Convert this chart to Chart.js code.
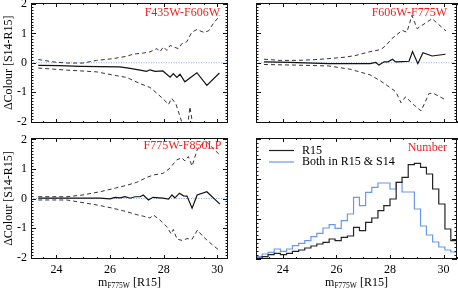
<!DOCTYPE html>
<html><head><meta charset="utf-8">
<script src="https://cdn.jsdelivr.net/npm/chart.js@4.4.1/dist/chart.umd.min.js"></script>
<style>
html,body{margin:0;padding:0;background:#fff;width:458px;height:291px;overflow:hidden}
#wrap{position:relative;width:458px;height:291px}
canvas{position:absolute;left:0;top:0}
</style></head><body>
<div id="wrap">
<canvas id="cTL" width="458" height="291"></canvas>
<canvas id="cTR" width="458" height="291"></canvas>
<canvas id="cBL" width="458" height="291"></canvas>
<canvas id="cBR" width="458" height="291"></canvas>
</div>
<script>
// ---------------- data ----------------
const xTicks = [24, 26, 28, 30];
const yTicks = [-2, -1, 0, 1, 2];
const leftRange = [23.05, 30.4];
const rightRange = [23, 30.5];
const zeroY = [0, 0];

// Top-left: F435W-F606W
const tlMeanX = [23.32, 24.13, 24.88, 25.63, 26.37, 26.75, 27.12, 27.36, 27.49, 27.68, 27.97, 28.24, 28.36, 28.49, 28.61, 28.79, 29.24, 29.61, 30.08];
const tlMeanY = [-0.09, -0.10, -0.12, -0.13, -0.14, -0.19, -0.25, -0.29, -0.24, -0.29, -0.28, -0.49, -0.37, -0.50, -0.39, -0.65, -0.34, -0.77, -0.35];
const tlUpX = [23.32, 23.87, 24.38, 24.99, 25.50, 26.11, 26.62, 26.85, 27.24, 27.49, 27.60, 27.75, 27.86, 27.99, 28.12, 28.24, 28.36, 28.55, 28.68, 28.86, 29.05, 29.24, 29.48, 29.67, 29.85, 30.10];
const tlUpY = [0.11, 0.03, -0.01, -0.01, 0.08, 0.14, 0.22, 0.29, 0.33, 0.37, 0.42, 0.48, 0.37, 0.54, 0.42, 0.59, 0.54, 0.48, 0.65, 0.71, 1.04, 1.13, 1.04, 1.08, 1.33, 1.61];
const tlLoX = [23.32, 24.38, 25.50, 26.12, 26.62, 27.12, 27.49, 27.75, 27.99, 28.18, 28.30, 28.46, 28.68, 28.83, 28.98, 29.13, 29.35, 29.73, 30.07];
const tlLoY = [-0.18, -0.25, -0.31, -0.42, -0.50, -0.71, -0.84, -1.04, -1.24, -1.42, -1.21, -1.41, -2.03, -2.60, -1.50, -2.40, -2.90, -3.10, -3.30];

// Top-right: F606W-F775W
const trMeanX = [23.30, 24.27, 25.72, 26.72, 27.25, 27.47, 27.59, 27.78, 27.93, 28.09, 28.21, 28.45, 28.71, 28.84, 29.04, 29.23, 29.57, 30.07];
const trMeanY = [0.03, 0.01, -0.03, -0.03, -0.03, 0.01, -0.08, 0.03, 0.03, 0.12, 0.03, 0.04, 0.05, 0.38, -0.03, 0.34, 0.23, 0.29];
const trUpX = [23.30, 23.90, 24.49, 25.09, 25.72, 26.32, 26.73, 27.22, 27.66, 27.85, 28.07, 28.45, 28.63, 28.82, 29.01, 29.57, 30.09];
const trUpY = [0.12, 0.08, 0.08, 0.10, 0.14, 0.19, 0.25, 0.37, 0.45, 0.59, 0.82, 1.10, 1.04, 1.61, 1.16, 1.50, 1.08];
const trLoX = [23.30, 24.49, 25.72, 26.51, 27.25, 27.63, 28.00, 28.22, 28.41, 28.58, 28.90, 29.16, 29.46, 29.64, 30.09];
const trLoY = [-0.06, -0.08, -0.11, -0.22, -0.41, -0.61, -0.84, -0.99, -1.36, -1.16, -1.44, -1.64, -1.04, -1.05, -1.27];

// Bottom-left: F775W-F850LP
const blMeanX = [23.32, 24.13, 24.88, 25.63, 26.00, 26.19, 26.37, 26.56, 26.75, 26.93, 27.12, 27.24, 27.43, 27.60, 27.97, 28.18, 28.31, 28.42, 28.59, 28.74, 28.87, 29.06, 29.25, 29.61, 30.10];
const blMeanY = [0.01, 0.01, 0.01, 0.01, -0.01, 0.04, 0.02, 0.06, 0.01, 0.06, 0.06, 0.12, -0.05, 0.04, 0.01, -0.02, 0.12, 0.02, 0.18, 0.09, 0.08, -0.33, 0.12, 0.23, -0.19];
const blUpX = [23.32, 24.39, 24.99, 25.63, 26.19, 26.63, 27.00, 27.38, 27.64, 27.97, 28.20, 28.49, 28.68, 28.79, 28.92, 29.06, 29.26, 29.56, 30.10];
const blUpY = [0.06, 0.06, 0.12, 0.23, 0.35, 0.45, 0.55, 0.72, 0.80, 0.85, 1.00, 1.31, 1.38, 1.27, 1.42, 1.10, 1.68, 1.95, 1.47];
const blLoX = [23.32, 24.39, 24.99, 25.63, 26.11, 26.63, 27.00, 27.24, 27.49, 27.62, 27.86, 28.12, 28.28, 28.36, 28.50, 28.69, 28.87, 29.06, 29.26, 29.43, 29.66, 30.10];
const blLoY = [-0.05, -0.05, -0.14, -0.24, -0.33, -0.45, -0.55, -0.60, -0.66, -0.56, -0.73, -0.96, -1.20, -1.05, -1.38, -1.42, -1.36, -1.38, -1.07, -1.25, -1.45, -1.78];

// Bottom-right: Number histograms
const brBinEdges = [23.00, 23.23, 23.45, 23.68, 23.91, 24.14, 24.36, 24.59, 24.82, 25.05, 25.27, 25.50, 25.73, 25.95, 26.18, 26.41, 26.64, 26.86, 27.09, 27.32, 27.55, 27.77, 28.00, 28.23, 28.45, 28.68, 28.91, 29.14, 29.36, 29.59, 29.82, 30.05, 30.27, 30.50];
const brR15 = [1, 2.3, 4.3, 5.7, 4.3, 5.7, 7.7, 9, 11, 13, 15, 16.7, 20, 18.3, 21.7, 23, 31.7, 28.3, 36.7, 41, 48.3, 53.3, 60, 76.7, 81.7, 94.3, 95.7, 91.7, 85, 70, 55, 30, 18.3];
const brBoth = [2.3, 5, 6.7, 10, 7.7, 10, 13.3, 15.7, 18.3, 22.3, 25.7, 31, 34.3, 30.7, 38.3, 45, 61.7, 53.3, 66.7, 71.7, 76, 76, 70, 76.7, 67, 67, 50, 33, 24, 17, 12, 9, 7];

// text
const panelLabels = ['F435W-F606W', 'F606W-F775W', 'F775W-F850LP', 'Number'];
const seriesNames = ['R15', 'Both in R15 & S14'];
const yTitle = '\u0394Colour [S14-R15]';
const xTitleMain = 'm', xTitleSub = 'F775W', xTitleTail = ' [R15]';

// ---------------- styling ----------------
const SERIF = "'Liberation Serif','Times New Roman',Times,serif";
const RED = '#f21c1c';
const BLUE = '#6a98e8';
const ZERO = '#93aee8';
const W = 458, H = 291;

const pts = (xs, ys) => xs.map((x, i) => ({x, y: ys[i]}));
const histPts = (edges, counts) => edges.map((x, i) => ({x, y: counts[Math.min(i, counts.length - 1)]}));

const decoPlugin = {
  id: 'deco',
  afterDraw(chart, args, o) {
    const ctx = chart.ctx, a = chart.chartArea, xs = chart.scales.x, ys = chart.scales.y;
    const L = Math.round(a.left), R = Math.round(a.right), T = Math.round(a.top), B = Math.round(a.bottom);
    ctx.save();
    ctx.strokeStyle = '#111';
    ctx.lineWidth = 1;
    ctx.strokeRect(L + 0.5, T + 0.5, R - L - 1, B - T - 1);
    ctx.beginPath();
    for (let i = Math.ceil(xs.min / o.xMinor - 1e-9); i * o.xMinor <= xs.max + 1e-9; i++) {
      const v = i * o.xMinor;
      const maj = Math.abs(v / o.xMajor - Math.round(v / o.xMajor)) < 1e-6;
      const len = maj ? 4 : 2;
      const px = Math.round(xs.getPixelForValue(v)) + 0.5;
      ctx.moveTo(px, T); ctx.lineTo(px, T + len);
      ctx.moveTo(px, B); ctx.lineTo(px, B - len);
    }
    for (let i = Math.ceil(ys.min / o.yMinor - 1e-9); i * o.yMinor <= ys.max + 1e-9; i++) {
      const v = i * o.yMinor;
      const maj = Math.abs(v / o.yMajor - Math.round(v / o.yMajor)) < 1e-6;
      const len = maj ? 5 : 2.5;
      const py = Math.round(ys.getPixelForValue(v)) + 0.5;
      ctx.moveTo(L, py); ctx.lineTo(L + len, py);
      ctx.moveTo(R, py); ctx.lineTo(R - len, py);
    }
    ctx.stroke();
    ctx.fillStyle = RED;
    ctx.font = `12px ${SERIF}`;
    ctx.textAlign = 'right';
    ctx.textBaseline = 'alphabetic';
    ctx.fillText(o.label, a.right - o.labelDx, a.top + o.labelDy);
    if (o.xTitle) {
      ctx.fillStyle = '#000';
      ctx.textAlign = 'left';
      ctx.font = `12px ${SERIF}`; const w1 = ctx.measureText(xTitleMain).width;
      ctx.font = `7.5px ${SERIF}`; const w2 = ctx.measureText(xTitleSub).width;
      ctx.font = `12px ${SERIF}`; const w3 = ctx.measureText(xTitleTail).width;
      let x = (a.left + a.right) / 2 - (w1 + w2 + w3) / 2;
      const by = o.xTitleY;
      ctx.fillText(xTitleMain, x, by); x += w1;
      ctx.font = `7.5px ${SERIF}`; ctx.fillText(xTitleSub, x, by + 2.5); x += w2;
      ctx.font = `12px ${SERIF}`; ctx.fillText(xTitleTail, x, by);
    }
    if (o.legend) {
      ctx.font = `12px ${SERIF}`;
      ctx.textAlign = 'left';
      o.legend.forEach((item) => {
        const ds = chart.data.datasets[item.ds];
        ctx.strokeStyle = ds.borderColor;
        ctx.lineWidth = 1.2;
        ctx.beginPath();
        ctx.moveTo(item.x0, item.y + 0.5); ctx.lineTo(item.x1, item.y + 0.5);
        ctx.stroke();
        ctx.fillStyle = '#000';
        ctx.fillText(ds.label, item.tx, item.y + 3.8);
      });
    }
    ctx.restore();
  }
};

function makeChart(id, area, xRange, datasets, opts) {
  const [L, T, R, B] = area;
  const tickFont = {family: SERIF, size: 12};
  return new Chart(document.getElementById(id), {
    type: 'line',
    data: {datasets},
    options: {
      responsive: false,
      animation: false,
      devicePixelRatio: 1,
      layout: {padding: {left: 0, top: T, right: W - R, bottom: 0}},
      elements: {point: {radius: 0}, line: {tension: 0}},
      plugins: {legend: {display: false}, tooltip: {enabled: false}, deco: opts.deco},
      scales: {
        x: {
          type: 'linear', min: xRange[0], max: xRange[1],
          grid: {display: false, drawTicks: false}, border: {display: false},
          ticks: {display: opts.xLabels, font: tickFont, color: '#000', padding: 4, maxRotation: 0},
          afterBuildTicks: (s) => { s.ticks = xTicks.map((v) => ({value: v})); },
          afterFit: (s) => { s.height = H - B; s.paddingLeft = 0; s.paddingRight = 0; }
        },
        y: {
          type: 'linear', min: opts.yMin, max: opts.yMax,
          grid: {display: false, drawTicks: false}, border: {display: false},
          ticks: {display: opts.yLabels, font: tickFont, color: '#000', padding: 4},
          title: {display: !!opts.yTitle, text: opts.yTitle || '', font: {family: SERIF, size: 12}, color: '#000', padding: {top: 2, bottom: 0}},
          afterBuildTicks: (s) => { if (opts.yLabels) s.ticks = yTicks.map((v) => ({value: v})); },
          afterFit: (s) => { s.width = L; s.paddingTop = 0; s.paddingBottom = 0; }
        }
      }
    },
    plugins: [decoPlugin]
  });
}

function colourSets(xRange, meanX, meanY, upX, upY, loX, loY) {
  return [
    {label: 'mean', data: pts(meanX, meanY), borderColor: '#111', borderWidth: 1.2, pointRadius: 0, fill: false},
    {label: 'upper', data: pts(upX, upY), borderColor: '#333', borderWidth: 1, borderDash: [4, 3], pointRadius: 0, fill: false},
    {label: 'lower', data: pts(loX, loY), borderColor: '#333', borderWidth: 1, borderDash: [4, 3], pointRadius: 0, fill: false},
    {label: 'zero', data: pts(xRange, zeroY), borderColor: ZERO, borderWidth: 1, borderDash: [1, 1.5], pointRadius: 0, fill: false}
  ];
}

const dYmin = -2.05, dYmax = 2.05;

makeChart('cTL', [31, 2.5, 228, 123], leftRange, colourSets(leftRange, tlMeanX, tlMeanY, tlUpX, tlUpY, tlLoX, tlLoY), {
  xLabels: false, yLabels: true, yTitle: yTitle, yMin: dYmin, yMax: dYmax,
  deco: {xMinor: 0.5, xMajor: 2, yMinor: 0.1, yMajor: 1, label: panelLabels[0], labelDx: 8, labelDy: 13}
});
makeChart('cTR', [256, 2.5, 457, 123], rightRange, colourSets(rightRange, trMeanX, trMeanY, trUpX, trUpY, trLoX, trLoY), {
  xLabels: false, yLabels: false, yMin: dYmin, yMax: dYmax,
  deco: {xMinor: 0.5, xMajor: 2, yMinor: 0.1, yMajor: 1, label: panelLabels[1], labelDx: 10, labelDy: 13}
});
makeChart('cBL', [31, 138, 228, 259], leftRange, colourSets(leftRange, blMeanX, blMeanY, blUpX, blUpY, blLoX, blLoY), {
  xLabels: true, yLabels: true, yTitle: yTitle, yMin: dYmin, yMax: dYmax,
  deco: {xMinor: 0.5, xMajor: 2, yMinor: 0.1, yMajor: 1, label: panelLabels[2], labelDx: 6.5, labelDy: 11, xTitle: true, xTitleY: 285.5}
});
makeChart('cBR', [256, 138, 457, 259], rightRange, [
  {label: seriesNames[0], data: histPts(brBinEdges, brR15), borderColor: '#222', borderWidth: 1.2, stepped: true, pointRadius: 0, fill: false},
  {label: seriesNames[1], data: histPts(brBinEdges, brBoth), borderColor: BLUE, borderWidth: 1.2, stepped: true, pointRadius: 0, fill: false}
], {
  xLabels: true, yLabels: false, yMin: 0, yMax: 121,
  deco: {xMinor: 0.5, xMajor: 2, yMinor: 4, yMajor: 20, label: panelLabels[3], labelDx: 10, labelDy: 12.5, xTitle: true, xTitleY: 285.5,
    legend: [{ds: 0, x0: 269, x1: 294, y: 150, tx: 302}, {ds: 1, x0: 269, x1: 294, y: 161.5, tx: 302}]}
});
</script>
</body></html>
